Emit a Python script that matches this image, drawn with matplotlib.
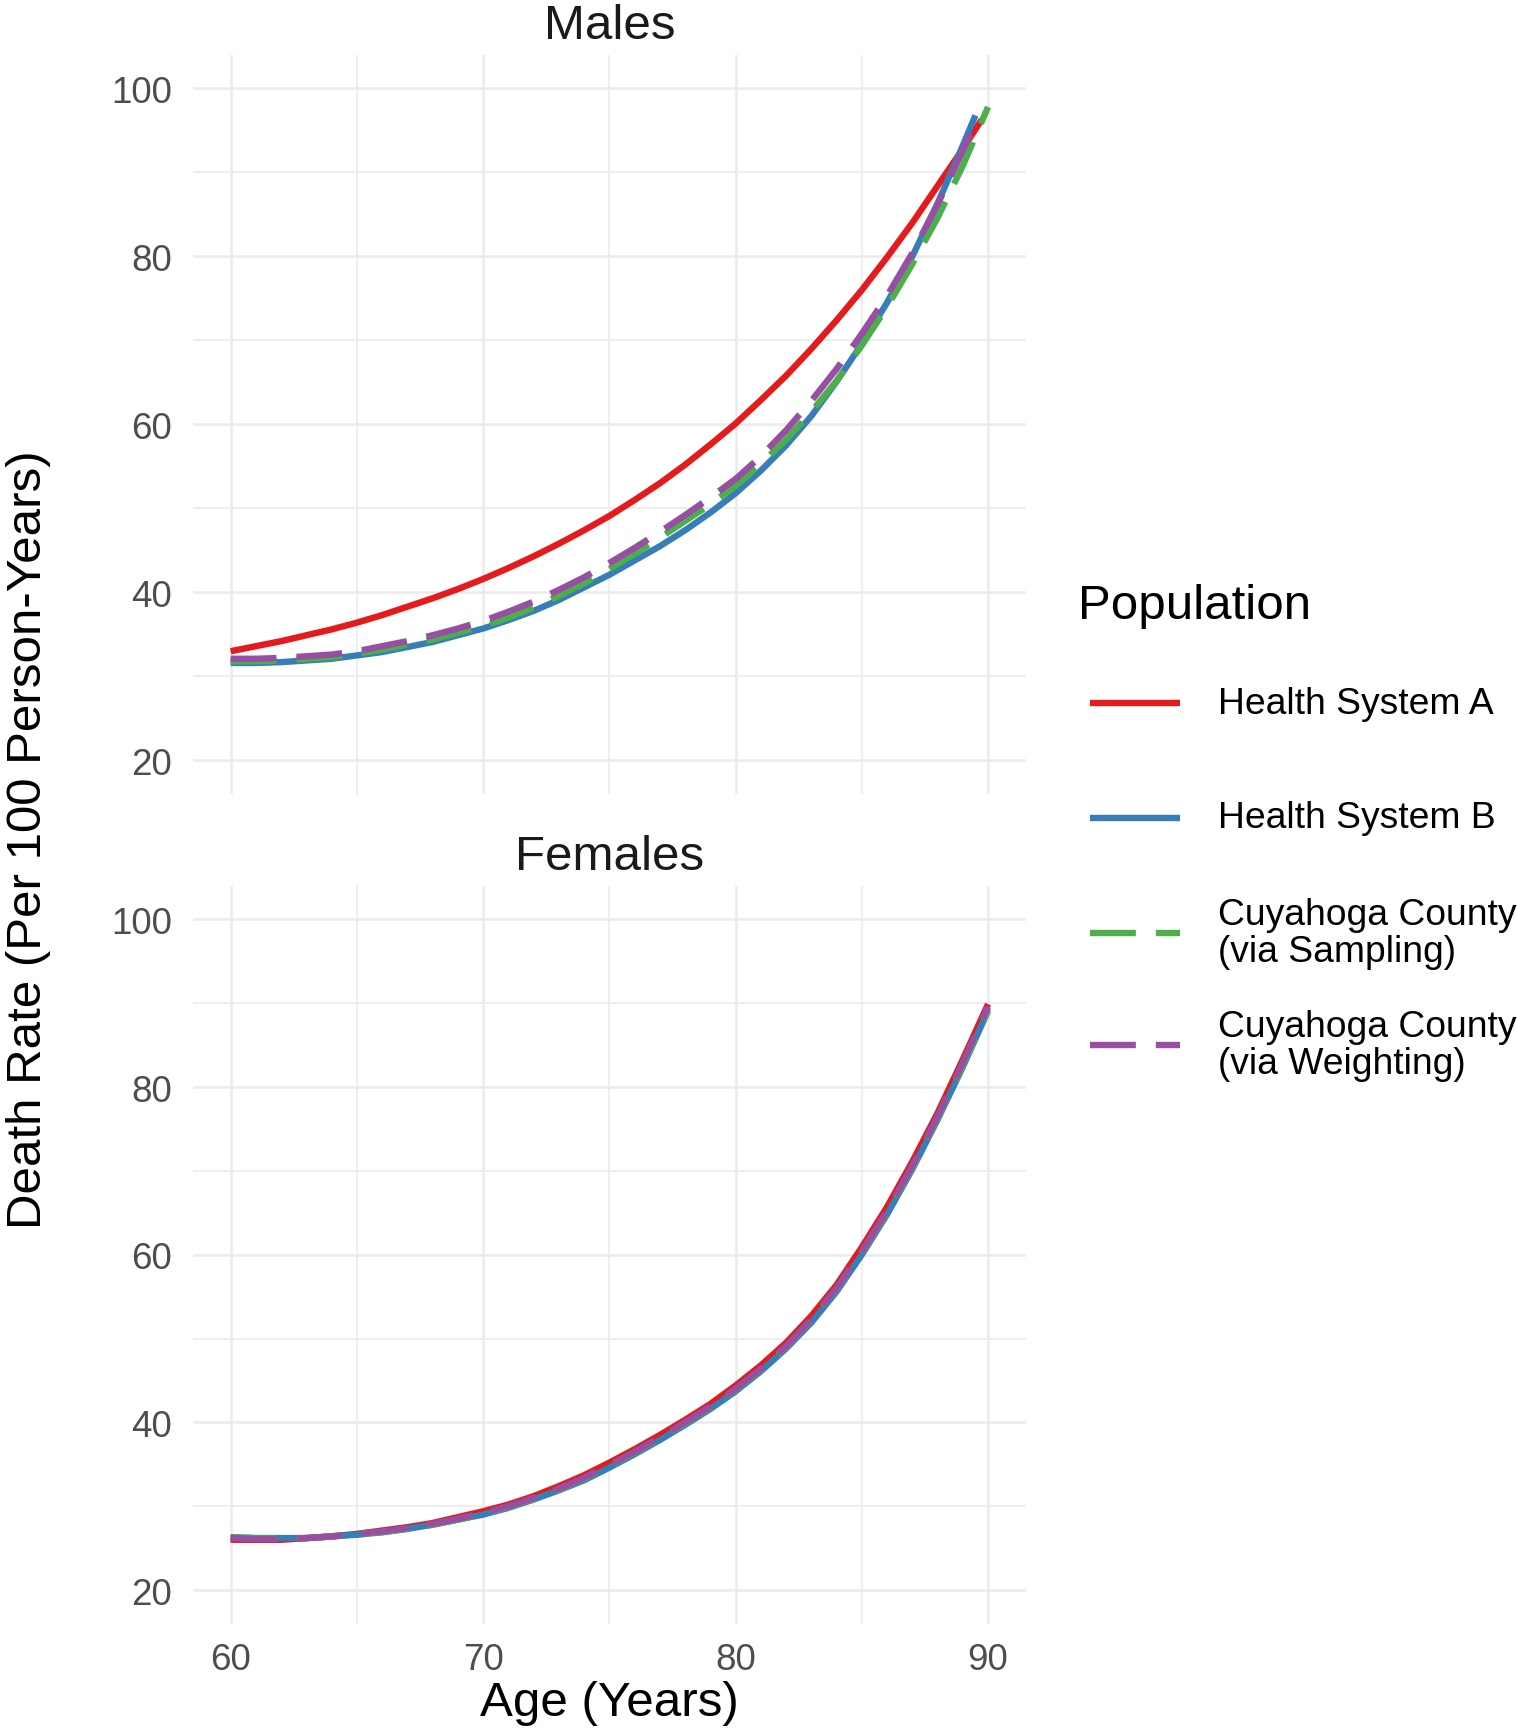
import matplotlib
matplotlib.use("Agg")
import matplotlib.pyplot as plt
from matplotlib.lines import Line2D

plt.rcParams['font.family'] = ['Liberation Sans', 'DejaVu Sans']
plt.rcParams['lines.scale_dashes'] = False

# ages (years), one per year; each series ends where its curve stops
ages = list(range(60, 90))

male_a_age = ages + [89.75]
male_a = [33.0, 33.6, 34.2, 34.9, 35.6, 36.4, 37.3, 38.3, 39.3, 40.4,
          41.6, 42.9, 44.3, 45.8, 47.4, 49.1, 51.0, 53.0, 55.2, 57.6,
          60.1, 62.9, 65.8, 69.0, 72.4, 76.0, 79.9, 84.0, 88.4, 92.8, 96.3]
male_b_age = ages + [89.5]
male_b = [31.6, 31.6, 31.7, 31.9, 32.1, 32.5, 32.9, 33.5, 34.1, 34.9,
          35.7, 36.7, 37.8, 39.1, 40.6, 42.1, 43.8, 45.5, 47.4, 49.5,
          51.8, 54.5, 57.5, 61.0, 65.1, 69.6, 74.5, 80.0, 86.3, 93.2, 96.8]
male_s_age = ages + [90]
male_s = [31.8, 31.8, 31.9, 32.1, 32.3, 32.7, 33.2, 33.8, 34.4, 35.2,
          36.0, 37.0, 38.2, 39.6, 41.1, 42.8, 44.6, 46.5, 48.5, 50.5,
          52.7, 55.3, 58.2, 61.5, 65.2, 69.4, 74.0, 79.1, 84.6, 90.8, 97.8]
male_w_age = ages + [89.3]
male_w = [32.1, 32.1, 32.2, 32.4, 32.6, 33.0, 33.6, 34.2, 34.9, 35.7,
          36.6, 37.7, 38.9, 40.3, 41.8, 43.5, 45.3, 47.2, 49.2, 51.3,
          53.5, 56.2, 59.3, 62.8, 66.6, 70.8, 75.3, 80.4, 86.2, 92.6, 94.6]

fem_age = ages + [90]
fem_a = [26.0, 26.0, 26.0, 26.2, 26.4, 26.7, 27.1, 27.5, 28.0, 28.7,
         29.4, 30.2, 31.2, 32.4, 33.7, 35.2, 36.8, 38.5, 40.3, 42.2,
         44.4, 46.8, 49.5, 52.7, 56.4, 60.9, 65.7, 71.1, 76.9, 83.3, 89.9]
fem_b = [26.3, 26.2, 26.2, 26.2, 26.4, 26.6, 26.9, 27.3, 27.8, 28.4,
         29.0, 29.8, 30.8, 31.9, 33.1, 34.6, 36.2, 37.9, 39.7, 41.6,
         43.7, 46.1, 48.8, 51.9, 55.6, 60.0, 64.8, 70.2, 76.1, 82.4, 89.1]
fem_s = [26.3, 26.2, 26.2, 26.2, 26.4, 26.7, 26.9, 27.3, 27.8, 28.4,
         29.1, 29.9, 30.9, 32.0, 33.3, 34.8, 36.4, 38.1, 39.9, 41.8,
         43.9, 46.3, 49.0, 52.2, 55.9, 60.3, 65.0, 70.4, 76.3, 82.6, 89.3]
fem_w = [26.2, 26.1, 26.1, 26.2, 26.4, 26.7, 27.0, 27.4, 27.9, 28.5,
         29.2, 30.0, 31.0, 32.1, 33.4, 34.9, 36.5, 38.2, 40.0, 41.9,
         44.0, 46.4, 49.1, 52.3, 56.0, 60.4, 65.2, 70.6, 76.5, 82.9, 89.6]

labels = ['Health System A', 'Health System B',
          'Cuyahoga County\n(via Sampling)', 'Cuyahoga County\n(via Weighting)']
colors = ['#E41A1C', '#377EB8', '#4DAF4A', '#984EA3']
dashed = [False, False, True, True]
DASH = (33, 14.4)
LW = 4.6

W, H = 1517, 1733
fig = plt.figure(figsize=(W / 100, H / 100), dpi=100)

def fx(px):
    return px / W

def fy(py):
    return 1 - py / H

ax1 = fig.add_axes([fx(192.8), fy(795), fx(1025.9 - 192.8), (795 - 55.9) / H])
ax2 = fig.add_axes([fx(192.8), fy(1624.6), fx(1025.9 - 192.8), (1624.6 - 886.9) / H])

male = [(male_a_age, male_a), (male_b_age, male_b), (male_s_age, male_s), (male_w_age, male_w)]
female = [(fem_age, fem_a), (fem_age, fem_b), (fem_age, fem_s), (fem_age, fem_w)]

for ax, series, title in [(ax1, male, 'Males'), (ax2, female, 'Females')]:
    for (x, y), c, d in zip(series, colors, dashed):
        ln, = ax.plot(x, y, color=c, lw=LW, solid_capstyle='butt', dash_capstyle='butt',
                      solid_joinstyle='round')
        if d:
            ln.set_dashes(DASH)
    ax.set_xlim(58.5, 91.5)
    ax.set_ylim(16, 104)
    ax.set_xticks([60, 70, 80, 90])
    ax.set_xticks([65, 75, 85], minor=True)
    ax.set_yticks([20, 40, 60, 80, 100])
    ax.set_yticks([30, 50, 70, 90], minor=True)
    ax.grid(which='major', color='#EBEBEB', lw=1.8)
    ax.grid(which='minor', color='#EBEBEB', lw=1.2)
    ax.set_axisbelow(True)
    for s in ax.spines.values():
        s.set_visible(False)
    ax.tick_params(which='both', length=0, labelsize=26.5, labelcolor='#4D4D4D')
    ax.tick_params(axis='y', pad=15)
    ax.tick_params(axis='x', pad=13)
    ax.text(0.5, 1 + 17 / 738, title, transform=ax.transAxes, ha='center',
            va='baseline', fontsize=35.5, color='#1A1A1A')

ax1.tick_params(axis='x', labelbottom=False)

fig.text(fx(609.4), fy(1704), 'Age (Years)', ha='center', va='center', fontsize=35.5)
fig.text(fx(29), fy(840), 'Death Rate (Per 100 Person-Years)', ha='center', va='center',
         rotation=90, fontsize=35.5)

# legend
fig.text(fx(1078), fy(619), 'Population', ha='left', va='baseline', fontsize=35.5)
key_y = [704, 819, 934, 1046]
for ky, lab, c, d in zip(key_y, labels, colors, dashed):
    ln = Line2D([fx(1090), fx(1180)], [fy(ky), fy(ky)], transform=fig.transFigure,
                color=c, lw=LW, solid_capstyle='butt', dash_capstyle='butt')
    if d:
        ln.set_dashes(DASH)
    fig.add_artist(ln)
    fig.text(fx(1218), fy(ky), lab, ha='left', va='center', fontsize=26.8, linespacing=1.05)

fig.savefig('out.png', dpi=100, facecolor='white')
